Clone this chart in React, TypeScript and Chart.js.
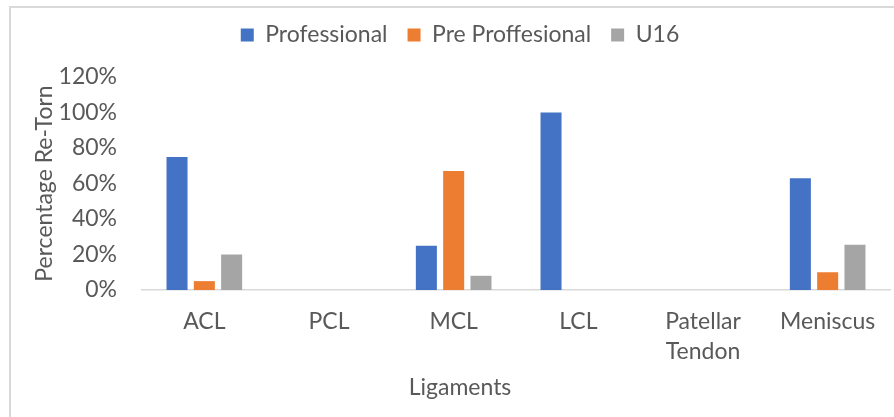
import React, { useEffect, useRef } from "react";
import { Chart, registerables } from "chart.js";

Chart.register(...registerables);

const categories: (string | string[])[] = ["ACL", "PCL", "MCL", "LCL", ["Patellar", "Tendon"], "Meniscus"];
const professional = [75, 0, 25, 100, 0, 63];
const preProfessional = [5, 0, 67, 0, 0, 10];
const u16 = [20, 0, 8, 0, 0, 25.5];
const seriesNames = ["Professional", "Pre Proffesional", "U16"];
const yTicks = [0, 20, 40, 60, 80, 100, 120];

const FONT = "Lato, 'Noto Sans', sans-serif";
const TEXT = "#595959";
const FS = 23;

export default function App() {
  const ref = useRef<HTMLCanvasElement | null>(null);
  useEffect(() => {
    document.body.style.margin = "0";
    const canvas = ref.current!;
    const borderPlugin = {
      id: "frame",
      beforeDraw(chart: any) {
        const ctx = chart.ctx;
        ctx.save();
        ctx.fillStyle = "#ffffff";
        ctx.fillRect(0, 0, chart.width, chart.height);
        ctx.fillStyle = "#d9d9d9";
        ctx.fillRect(9, 6, 2, chart.height - 6);
        ctx.fillRect(9, 6, chart.width - 9, 2);
        ctx.restore();
      },
    };
    const legendSpacer = {
      id: "legendSpacer",
      beforeInit(chart: any) {
        const legend = chart.legend;
        const orig = legend.fit;
        legend.fit = function () {
          orig.call(this);
          this.height = 73.5;
        };
      },
    };
    const chart = new Chart(canvas, {
      type: "bar",
      data: {
        labels: categories as any,
        datasets: [
          { label: seriesNames[0], data: professional, backgroundColor: "#4472C4" },
          { label: seriesNames[1], data: preProfessional, backgroundColor: "#ED7D31" },
          { label: seriesNames[2], data: u16, backgroundColor: "#A5A5A5" },
        ],
      },
      plugins: [borderPlugin, legendSpacer],
      options: {
        responsive: false,
        animation: false,
        layout: { padding: { left: 30, right: 4, top: 3.5, bottom: 0 } },
        datasets: {
          bar: { categoryPercentage: 0.657, barPercentage: 0.77 },
        },
        plugins: {
          tooltip: { enabled: false },
          legend: {
            position: "top",
            labels: {
              boxWidth: 13,
              boxHeight: 13,
              padding: 20,
              color: TEXT,
              font: { family: FONT, size: FS },
            },
          },
          title: {
            display: true,
            text: "Ligaments",
            position: "bottom",
            color: TEXT,
            font: { family: FONT, size: FS, weight: "normal" },
            padding: { top: 0, bottom: 15.2 },
          },
        },
        scales: {
          x: {
            grid: { display: false, drawTicks: false },
            border: { display: true, color: "#d9d9d9", width: 1.5 },
            ticks: {
              color: TEXT,
              font: { family: FONT, size: FS, lineHeight: 1.3 },
              padding: 17,
              maxRotation: 0,
              autoSkip: false,
            },
            afterFit(scale: any) {
              scale.height = 417 - 42.8 - 290;
            },
          },
          y: {
            min: 0,
            max: 120,
            afterBuildTicks(scale: any) {
              scale.ticks = yTicks.map((v) => ({ value: v }));
            },
            grid: { display: false, drawTicks: false },
            border: { display: false },
            ticks: {
              color: TEXT,
              font: { family: FONT, size: FS },
              padding: 25,
              callback: (v: any) => v + "%",
            },
            title: {
              display: true,
              text: "Percentage Re-Torn",
              color: TEXT,
              font: { family: FONT, size: FS },
              padding: { top: 1, bottom: 0 },
            },
            afterFit(scale: any) {
              scale.width = 112;
            },
          },
        },
      },
    });
    return () => chart.destroy();
  }, []);
  return (
    <div style={{ width: 894, height: 417 }}>
      <canvas ref={ref} width={894} height={417} />
    </div>
  );
}
